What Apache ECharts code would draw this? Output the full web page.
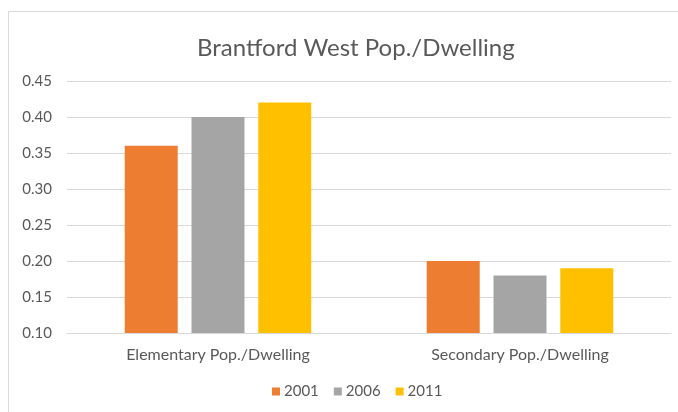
<!DOCTYPE html>
<html><head><meta charset="utf-8">
<script src="https://cdn.jsdelivr.net/npm/echarts@6/dist/echarts.min.js"></script>
<style>html,body{margin:0;padding:0;background:#fff;}#c{width:678px;height:412px;}</style>
</head><body><div id="c"></div>
<script>
const categories = ["Elementary Pop./Dwelling", "Secondary Pop./Dwelling"];
const s2001 = [0.36, 0.20];
const s2006 = [0.40, 0.18];
const s2011 = [0.42, 0.19];
const seriesNames = ["2001", "2006", "2011"];
const colors = ["#ED7D31", "#A5A5A5", "#FFC000"];
const FONT = "Lato, 'Open Sans', sans-serif";
const chart = echarts.init(document.getElementById('c'));
const vals = [s2001, s2006, s2011];
chart.setOption({
  animation: false,
  textStyle: {fontFamily: FONT},
  graphic: [{type: 'rect', shape: {x: 8.5, y: 11.5, width: 700, height: 420}, style: {fill: 'none', stroke: '#D9D9D9', lineWidth: 1}, silent: true}],
  title: {text: "Brantford West Pop./Dwelling", left: 192, top: 31,
    textStyle: {fontFamily: FONT, fontSize: 24, fontWeight: 'normal', color: '#595959'}},
  legend: {bottom: 8, left: 267, itemWidth: 8, itemHeight: 8, itemGap: 15,
    icon: 'rect', textStyle: {fontFamily: FONT, fontSize: 15, color: '#595959', padding: [0,0,0,-1]}, data: seriesNames},
  grid: {left: 67, right: 7, top: 81, bottom: 79},
  xAxis: {type: 'category', data: categories,
    axisLine: {lineStyle: {color: '#D9D9D9'}}, axisTick: {show: false},
    axisLabel: {fontFamily: FONT, fontSize: 16, color: '#595959', margin: 14}},
  yAxis: {type: 'value', min: 0.1, max: 0.45, interval: 0.05,
    axisLine: {show: false}, axisTick: {show: false},
    splitLine: {lineStyle: {color: '#D9D9D9'}},
    axisLabel: {fontFamily: FONT, fontSize: 15, color: '#595959', margin: 15,
      formatter: v => v.toFixed(2)}},
  series: seriesNames.map((n, i) => ({name: n, type: 'bar', data: vals[i],
    barWidth: 53, barGap: '26%', itemStyle: {color: colors[i]}}))
});
</script></body></html>
